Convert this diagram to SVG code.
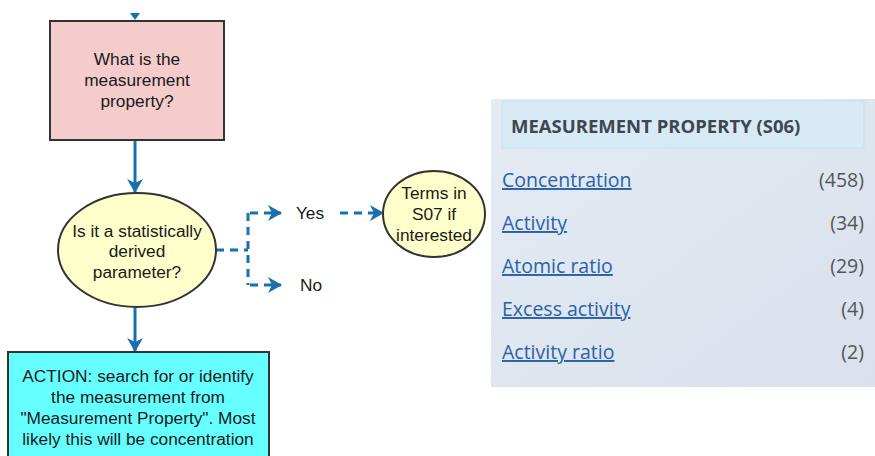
<svg xmlns="http://www.w3.org/2000/svg" width="875" height="456" viewBox="0 0 875 456">
<defs>
<marker id="ahb" viewBox="0 0 14 16" refX="13" refY="8" markerWidth="14" markerHeight="16" markerUnits="userSpaceOnUse" orient="auto">
<path d="M0,0 L14,8 L0,16 L4,8 Z" fill="#1a6fae"/>
</marker>
<linearGradient id="pg" x1="0" y1="0" x2="1" y2="1">
<stop offset="0" stop-color="#e4ebf3"/>
<stop offset="1" stop-color="#d8e1ec"/>
</linearGradient>
</defs>
<style>
.ft{font-family:"Liberation Sans",Arial,sans-serif;font-size:17.3px;fill:#1a1a1a;text-anchor:middle}
.nd{stroke:#333;stroke-width:2}
.cn{stroke:#1a6fae;stroke-width:3;fill:none}
.ds{stroke-dasharray:8,6}
.lk{font-family:"Open Sans","Noto Sans",sans-serif;font-size:19.5px;fill:#2a62a8;text-decoration:underline}
.ct{font-family:"Open Sans","Noto Sans",sans-serif;font-size:19.5px;fill:#555;text-anchor:end}
</style>
<rect width="875" height="456" fill="#fff"/>
<g id="panel">
<rect x="491" y="99" width="384" height="288" fill="url(#pg)"/>
<rect x="502" y="101" width="362" height="47" fill="#d7eaf5" stroke="#c3e1ee" stroke-width="1"/>
<text x="511" y="133" font-family="'Open Sans','Noto Sans',sans-serif" font-size="18.5" font-weight="bold" fill="#3f4650">MEASUREMENT PROPERTY (S06)</text>
<text class="lk" x="502" y="187">Concentration</text><text class="ct" x="864" y="187">(458)</text>
<text class="lk" x="502" y="230">Activity</text><text class="ct" x="864" y="230">(34)</text>
<text class="lk" x="502" y="273">Atomic ratio</text><text class="ct" x="864" y="273">(29)</text>
<text class="lk" x="502" y="316">Excess activity</text><text class="ct" x="864" y="316">(4)</text>
<text class="lk" x="502" y="359">Activity ratio</text><text class="ct" x="864" y="359">(2)</text>
</g>
<g id="connectors">
<path d="M130,13 L140,13 L135,20 Z" fill="#1a6fae"/>
<line class="cn" x1="135" y1="140" x2="135" y2="192" marker-end="url(#ahb)"/>
<line class="cn" x1="135" y1="308" x2="135" y2="351" marker-end="url(#ahb)"/>
<path class="cn ds" d="M216,250 H248 M248,213 V285"/>
<line class="cn ds" x1="250" y1="213" x2="281" y2="213" marker-end="url(#ahb)"/>
<line class="cn ds" x1="250" y1="285" x2="281" y2="285" marker-end="url(#ahb)"/>
<line class="cn ds" x1="340" y1="213" x2="383" y2="213" marker-end="url(#ahb)"/>
<text x="310" y="219" font-family="'Liberation Sans',Arial,sans-serif" font-size="17.3" fill="#1a1a1a" text-anchor="middle">Yes</text>
<text x="311" y="291" font-family="'Liberation Sans',Arial,sans-serif" font-size="17.3" fill="#1a1a1a" text-anchor="middle">No</text>
</g>
<g id="q1">
<rect class="nd" x="50" y="21" width="174" height="119" fill="#f4cccc"/>
<text class="ft" x="137" y="65">What is the</text>
<text class="ft" x="137" y="86">measurement</text>
<text class="ft" x="137" y="107">property?</text>
</g>
<g id="q2">
<ellipse class="nd" cx="137" cy="250" rx="79" ry="57" fill="#ffffcc"/>
<text class="ft" x="137" y="237">Is it a statistically</text>
<text class="ft" x="137" y="257">derived</text>
<text class="ft" x="137" y="278">parameter?</text>
</g>
<g id="s07">
<ellipse class="nd" cx="434" cy="214" rx="51" ry="43" fill="#ffffcc"/>
<text class="ft" x="434" y="199">Terms in</text>
<text class="ft" x="434" y="220">S07 if</text>
<text class="ft" x="434" y="241">interested</text>
</g>
<g id="action">
<rect class="nd" x="8" y="352" width="261" height="110" fill="#66ffff"/>
<text class="ft" x="138" y="382">ACTION: search for or identify</text>
<text class="ft" x="138" y="403">the measurement from</text>
<text class="ft" x="138" y="424">"Measurement Property". Most</text>
<text class="ft" x="138" y="445">likely this will be concentration</text>
</g>
</svg>
